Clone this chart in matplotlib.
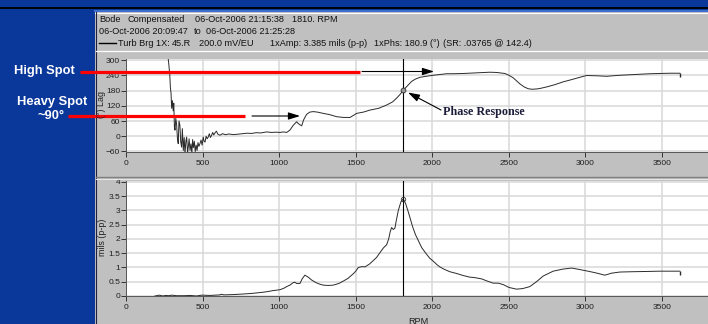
import matplotlib
matplotlib.use('Agg')
import matplotlib.pyplot as plt
from matplotlib.lines import Line2D
from matplotlib.patches import Rectangle, FancyArrowPatch
from matplotlib.ticker import FuncFormatter

plt.rcParams['font.family'] = ['Liberation Sans', 'DejaVu Sans']

# Bode phase trace
phase_rpm = [276, 280, 286, 290, 294, 298, 303, 308, 312, 316,
             320, 325, 330, 336, 341, 346, 352, 357, 363, 368,
             374, 380, 385, 391, 396, 402, 407, 412, 418, 424,
             430, 435, 440, 446, 452, 458, 464, 470, 476, 483,
             490, 497, 504, 510, 516, 523, 530, 537, 544, 551,
             559, 566, 573, 581, 590, 600, 614, 630, 650, 670,
             700, 730, 760, 790, 820, 850, 880, 918, 950, 980,
             1005, 1027, 1049, 1070, 1092, 1103, 1114, 1125, 1136, 1147,
             1160, 1179, 1200, 1223, 1250, 1288, 1330, 1375, 1420, 1462,
             1485, 1506, 1550, 1593, 1650, 1702, 1740, 1767, 1790, 1810,
             1840, 1865, 1890, 1919, 1960, 2006, 2050, 2093, 2136, 2202,
             2267, 2311, 2376, 2420, 2474, 2500, 2528, 2550, 2572, 2600,
             2626, 2650, 2681, 2710, 2746, 2800, 2854, 2910, 2963, 3007,
             3070, 3138, 3180, 3225, 3290, 3355, 3420, 3486, 3550, 3605,
             3616]
phase_deg = [303, 280, 240, 190, 170, 110, 140, 100, 130, 37,
             24, 70, 50, -10, -29, 60, 43, -20, -43, 30,
             -56, -5, -70, -20, -3, -65, -40, -10, -56, -30,
             -66, -13, -45, -20, -60, -35, -56, -25, -40, -29,
             -15, -35, -3, -20, -23, 0, -10, -3, 10, -5,
             4, 15, 5, 13, 20, 8, 4, 10, 6, 9,
             6.5, 8, 10, 12, 11, 14, 13, 17, 15, 16,
             15, 17, 15, 24, 43, 50, 57, 50, 45, 41,
             65, 86, 95, 97, 95, 90, 85, 77, 74, 74,
             82, 90, 95, 103, 110, 123, 135, 150, 165, 181,
             200, 216, 225, 232, 236, 240, 243, 246, 246, 247,
             249, 250, 252, 251, 247, 240, 230, 218, 206, 194,
             187, 185, 186, 189, 194, 203, 214, 223, 232, 239,
             238, 236, 238, 240, 242, 244, 246, 247, 248, 248,
             248]

# Bode amplitude trace
amp_rpm = [189, 200, 217, 240, 260, 280, 300, 330, 380, 420,
           460, 494, 550, 614, 620, 640, 700, 766, 820, 875,
           920, 961, 1005, 1030, 1049, 1070, 1092, 1103, 1114, 1136,
           1150, 1168, 1190, 1212, 1240, 1262, 1288, 1320, 1353, 1390,
           1418, 1450, 1484, 1500, 1517, 1540, 1560, 1590, 1614, 1636,
           1658, 1680, 1702, 1715, 1725, 1734, 1745, 1756, 1765, 1778,
           1795, 1810, 1825, 1840, 1854, 1870, 1890, 1908, 1930, 1960,
           1984, 2006, 2030, 2049, 2080, 2115, 2158, 2200, 2245, 2270,
           2322, 2360, 2398, 2430, 2463, 2500, 2550, 2590, 2637, 2680,
           2724, 2789, 2850, 2909, 2960, 3007, 3060, 3127, 3170, 3225,
           3300, 3400, 3486, 3560, 3616]
amp_mils = [0.0, 0.01, 0.03, 0.0, 0.02, 0.01, 0.03, 0.01, 0.01, 0.02,
            0.0, 0.03, 0.02, 0.04, 0.06, 0.04, 0.05, 0.07, 0.09, 0.12,
            0.15, 0.19, 0.22, 0.27, 0.33, 0.38, 0.47, 0.48, 0.44, 0.44,
            0.6, 0.73, 0.66, 0.56, 0.47, 0.42, 0.38, 0.37, 0.38, 0.44,
            0.52, 0.62, 0.78, 0.87, 1.0, 1.03, 1.02, 1.12, 1.24, 1.35,
            1.52, 1.68, 1.8, 2.0, 2.25, 2.4, 2.33, 2.38, 2.65, 3.0,
            3.3, 3.4, 3.25, 3.0, 2.75, 2.45, 2.15, 1.95, 1.7, 1.48,
            1.32, 1.22, 1.1, 1.02, 0.93, 0.85, 0.79, 0.72, 0.66, 0.65,
            0.6, 0.52, 0.45, 0.45, 0.4, 0.3, 0.24, 0.26, 0.33, 0.5,
            0.7, 0.87, 0.94, 0.98, 0.93, 0.88, 0.82, 0.73, 0.8, 0.84,
            0.85, 0.86, 0.87, 0.87, 0.87]

cursor_rpm = 1810
cursor_phase = 181
cursor_amp = 3.4

rpm_ticks = [0, 500, 1000, 1500, 2000, 2500, 3000, 3500]
phase_ticks = [-60, 0, 60, 120, 180, 240, 300]
amp_ticks = [0, 0.5, 1, 1.5, 2, 2.5, 3, 3.5, 4]

header_1 = ['Bode', 'Compensated', '06-Oct-2006 21:15:38', '1810. RPM']
header_2 = ['06-Oct-2006 20:09:47', 'to', '06-Oct-2006 21:25:28']
header_3 = ['Turb Brg 1X:', '45.R', '200.0 mV/EU', '1xAmp: 3.385 mils (p-p)',
            '1xPhs: 180.9 (°)', '(SR: .03765 @ 142.4)']

W, H = 708, 324
BLUE = '#0a379a'
PANEL = '#c0c0c0'
TRACE = '#2a2a2a'
GRID = '#d9d9d9'


def fx(x):
    return x / W


def fy(y):
    return 1 - y / H


fig = plt.figure(figsize=(W / 100, H / 100), dpi=100, facecolor=BLUE)

# window frame
fig.add_artist(Rectangle((fx(95), 0), 1 - fx(95), fy(12), transform=fig.transFigure,
                         facecolor=PANEL, edgecolor='none', zorder=-5))
fig.add_artist(Line2D([0, 1], [fy(8), fy(8)], transform=fig.transFigure, color='black', lw=1.3))
fig.add_artist(Line2D([fx(95), 1], [fy(11), fy(11)], transform=fig.transFigure, color='#3d6fd0', lw=1.5))
fig.add_artist(Line2D([fx(95), 1], [fy(13), fy(13)], transform=fig.transFigure, color='white', lw=0.8))
fig.add_artist(Line2D([fx(95.5), fx(95.5)], [0, fy(12)], transform=fig.transFigure, color='#202040', lw=0.8))
fig.add_artist(Line2D([fx(96), 1], [fy(50.5), fy(50.5)], transform=fig.transFigure, color='white', lw=0.9))
fig.add_artist(Line2D([fx(96), 1], [fy(177), fy(177)], transform=fig.transFigure, color='#808080', lw=1.0))
fig.add_artist(Line2D([fx(96), 1], [fy(178.5), fy(178.5)], transform=fig.transFigure, color='#e8e8e8', lw=0.7))

# header text
hs = 6.6
for s, x in zip(header_1, [99, 128, 195, 292]):
    fig.text(fx(x), fy(20), s, fontsize=hs, va='center', ha='left', color='#111111')
for s, x in zip(header_2, [99, 194, 206]):
    fig.text(fx(x), fy(31.7), s, fontsize=hs, va='center', ha='left', color='#111111')
fig.add_artist(Line2D([fx(99), fx(116)], [fy(43.3), fy(43.3)], transform=fig.transFigure,
                      color='black', lw=1.0))
for s, x in zip(header_3, [118.5, 172, 199, 270, 374, 443]):
    fig.text(fx(x), fy(43.3), s, fontsize=hs, va='center', ha='left', color='#111111')

# axes
ax1 = fig.add_axes([fx(126), fy(152), 1 - fx(126), (152 - 59) / H])
ax2 = fig.add_axes([fx(126), fy(296), 1 - fx(126), (296 - 181) / H])

for ax in (ax1, ax2):
    ax.set_facecolor('white')
    ax.set_xlim(0, 3800)
    ax.set_xticks(rpm_ticks)
    ax.grid(True, color=GRID, lw=1.1)
    ax.set_axisbelow(True)
    for side in ('top', 'right'):
        ax.spines[side].set_visible(False)
    for side in ('left', 'bottom'):
        ax.spines[side].set_color('#555555')
        ax.spines[side].set_linewidth(0.7)
    ax.tick_params(direction='out', length=3.3, width=0.7, colors='#333333',
                   labelsize=6, labelcolor='#202020')
    ax.tick_params(axis='x', pad=2.5)
    ax.tick_params(axis='y', pad=1)
    ax.axvline(cursor_rpm, color='black', lw=0.8, zorder=4)

ax1.plot(phase_rpm, phase_deg, color=TRACE, lw=0.7, zorder=3)
ax1.set_ylim(-62, 304)
ax1.set_yticks(phase_ticks)
ax1.plot(cursor_rpm, cursor_phase, 'o', ms=3.5, mfc='#999999', mec='#333333', mew=0.6, zorder=5)
ax1.plot(phase_rpm[-1], phase_deg[-1], marker=3, ms=3, color=TRACE)

ax2.plot(amp_rpm, amp_mils, color=TRACE, lw=0.7, zorder=3)
ax2.set_ylim(0, 4.03)
ax2.set_yticks(amp_ticks)
ax2.yaxis.set_major_formatter(FuncFormatter(lambda v, p: f'{v:g}'))
ax2.plot(cursor_rpm, cursor_amp, 'o', ms=3.2, mfc='none', mec='#333333', mew=0.6, zorder=5)
ax2.plot(amp_rpm[-1], amp_mils[-1], marker=3, ms=3, color=TRACE)

fig.text(fx(101), fy(104), '(°) Lag', rotation=90, fontsize=6.4, ha='center', va='center', color='#202020')
fig.text(fx(102.5), fy(237), 'mils (p-p)', rotation=90, fontsize=6.4, ha='center', va='center', color='#202020')
fig.text(fx(418), fy(316.5), 'RPM', fontsize=6.6, ha='center', va='top', color='#202020')

# slide annotations
bold = dict(color='white', fontweight='bold', fontsize=9.3, ha='center', va='center')
fig.text(fx(44), fy(71), 'High Spot', **bold)
fig.text(fx(52), fy(102.5), 'Heavy Spot', **bold)
fig.text(fx(51.5), fy(116), '~90°', **bold)

fig.add_artist(Line2D([fx(80), fx(360)], [fy(71.5), fy(71.5)], transform=fig.transFigure,
                      color='#ff0000', lw=2.3, solid_capstyle='butt'))
fig.add_artist(Line2D([fx(68), fx(245)], [fy(116), fy(116)], transform=fig.transFigure,
                      color='#ff0000', lw=2.3, solid_capstyle='butt'))

arrow_style = '-|>,head_length=7,head_width=2.2'
for (x0, x1, y) in [(252, 300, 116), (362, 434, 71.5)]:
    fig.add_artist(FancyArrowPatch((fx(x0), fy(y)), (fx(x1), fy(y)), transform=fig.transFigure,
                                   arrowstyle=arrow_style, color='black',
                                   lw=0.8, shrinkA=0, shrinkB=0, mutation_scale=1))

fig.add_artist(FancyArrowPatch((fx(441), fy(110)), (fx(408), fy(92.5)), transform=fig.transFigure,
                               arrowstyle=arrow_style, color='black',
                               lw=0.8, shrinkA=0, shrinkB=0, mutation_scale=1))
fig.text(fx(443), fy(112), 'Phase Response', fontsize=8.7, fontweight='bold',
         family=['Liberation Serif', 'DejaVu Serif'], color='#1c1c3a', ha='left', va='center')

fig.savefig('out.png', dpi=100, facecolor=BLUE)
